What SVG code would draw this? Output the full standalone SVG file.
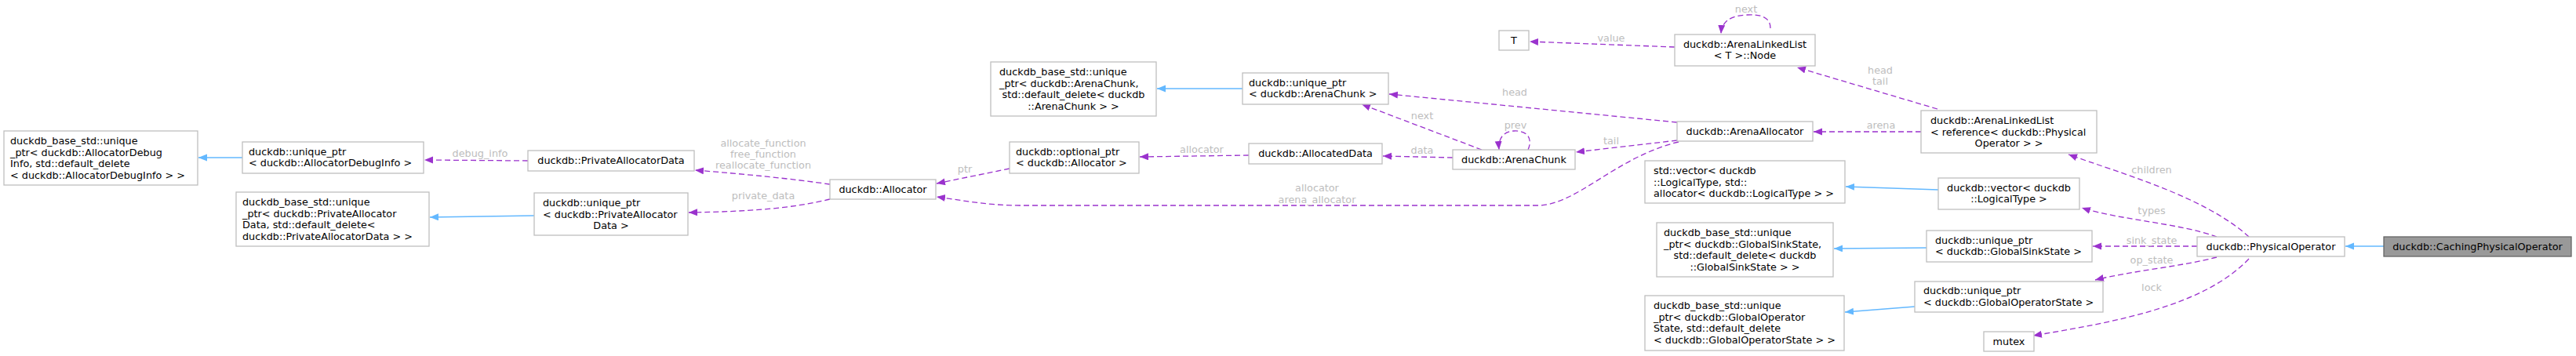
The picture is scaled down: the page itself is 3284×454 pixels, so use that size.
<svg xmlns="http://www.w3.org/2000/svg" width="3284" height="454" viewBox="0 0 3284 454">
<style>
rect{fill:#fff;stroke:#bfbfbf;stroke-width:1.3}
rect.main{fill:#999;stroke:#666}
text{font-family:"DejaVu Sans",sans-serif;font-size:12.8px;fill:#000}
text.m{text-anchor:middle}
text.l{font-size:12.8px;fill:#bdbdbd;text-anchor:middle}
path.p{fill:none;stroke:#9a32cd;stroke-width:1.3;stroke-dasharray:7,4;marker-end:url(#ap)}
path.b{fill:none;stroke:#63b8ff;stroke-width:1.3;marker-end:url(#ab)}
</style>
<defs>
<marker id="ap" markerUnits="userSpaceOnUse" markerWidth="12" markerHeight="10" refX="11" refY="4.5" orient="auto"><path d="M0,0 L11,4.5 L0,9 z" fill="#9a32cd"/></marker>
<marker id="ab" markerUnits="userSpaceOnUse" markerWidth="12" markerHeight="10" refX="11" refY="4.5" orient="auto"><path d="M0,0 L11,4.5 L0,9 z" fill="#63b8ff"/></marker>
</defs>
<g id="edges">
<path class="b" d="M309,201 L253,201"/>
<path class="p" d="M673,205 L541,204"/>
<path class="b" d="M681,275 L548,277"/>
<path class="b" d="M1584,113 L1475,113"/>
<path class="p" d="M1058,235 C1010,228 950,222 886,217"/>
<path class="p" d="M1058,254 C1010,266 950,270 878,271"/>
<path class="p" d="M1287,215 L1194,234"/>
<path class="p" d="M1592,198 L1453,200"/>
<path class="p" d="M1852,201 L1763,199"/>
<path class="p" d="M1889,191 L1736,133"/>
<path class="p" d="M1948,191 C1955,175 1945,166 1930,167 C1915,168 1910,178 1911,191"/>
<path class="p" d="M2138,156 L1771,120"/>
<path class="p" d="M2138,179 L2009,194"/>
<path class="p" d="M2140,181 C2060,200 2010,262 1960,262 L1300,262 C1260,262 1230,256 1194,251"/>
<path class="p" d="M2135,60 L1950,53"/>
<path class="p" d="M2257,36 C2257,22 2245,18 2227,19 C2205,20 2195,28 2194,43"/>
<path class="p" d="M2470,139 L2291,86"/>
<path class="p" d="M2449,168 L2312,168"/>
<path class="b" d="M2471,242 L2353,238"/>
<path class="b" d="M2456,316 L2338,317"/>
<path class="b" d="M2441,391 L2352,398"/>
<path class="p" d="M2867,302 C2810,250 2700,220 2637,197"/>
<path class="p" d="M2826,302 C2780,285 2700,280 2654,265"/>
<path class="p" d="M2801,314 L2668,314"/>
<path class="p" d="M2826,328 C2780,340 2720,345 2671,357"/>
<path class="p" d="M2867,330 C2810,390 2700,410 2592,428"/>
<path class="b" d="M3039,314 L2990,314"/>
<text class="l" x="612" y="200">debug_info</text>
<text class="l" x="973" y="187">allocate_function</text>
<text class="l" x="973" y="201">free_function</text>
<text class="l" x="973" y="215">reallocate_function</text>
<text class="l" x="973" y="254">private_data</text>
<text class="l" x="1230" y="220">ptr</text>
<text class="l" x="1532" y="195">allocator</text>
<text class="l" x="1813" y="196">data</text>
<text class="l" x="1813" y="152">next</text>
<text class="l" x="1932" y="164">prev</text>
<text class="l" x="1931" y="122">head</text>
<text class="l" x="2054" y="184">tail</text>
<text class="l" x="1679" y="244">allocator</text>
<text class="l" x="1679" y="259">arena_allocator</text>
<text class="l" x="2054" y="53">value</text>
<text class="l" x="2226" y="16">next</text>
<text class="l" x="2397" y="94">head</text>
<text class="l" x="2397" y="108">tail</text>
<text class="l" x="2398" y="164">arena</text>
<text class="l" x="2743" y="221">children</text>
<text class="l" x="2743" y="273">types</text>
<text class="l" x="2743" y="311">sink_state</text>
<text class="l" x="2743" y="336">op_state</text>
<text class="l" x="2743" y="371">lock</text>
</g>
<g id="adi_base"><rect x="5" y="167" width="247" height="69"/><text x="13" y="184">duckdb_base_std::unique</text><text x="13" y="198.5">_ptr&lt; duckdb::AllocatorDebug</text><text x="13" y="213">Info, std::default_delete</text><text x="13" y="227.5">&lt; duckdb::AllocatorDebugInfo &gt; &gt;</text></g>
<g id="adi_up"><rect x="309" y="181" width="231" height="40"/><text x="317" y="197.5">duckdb::unique_ptr</text><text x="317" y="212">&lt; duckdb::AllocatorDebugInfo &gt;</text></g>
<g id="pad"><rect x="673" y="192" width="212" height="26"/><text class="m" x="779" y="209">duckdb::PrivateAllocatorData</text></g>
<g id="pa_base"><rect x="301" y="245" width="246" height="69"/><text x="309" y="262">duckdb_base_std::unique</text><text x="309" y="276.5">_ptr&lt; duckdb::PrivateAllocator</text><text x="309" y="291">Data, std::default_delete&lt;</text><text x="309" y="305.5"> duckdb::PrivateAllocatorData &gt; &gt;</text></g>
<g id="pa_up"><rect x="681" y="246" width="196" height="54"/><text x="692" y="263">duckdb::unique_ptr</text><text x="692" y="277.5">&lt; duckdb::PrivateAllocator</text><text class="m" x="779" y="292">Data &gt;</text></g>
<g id="allocator"><rect x="1058" y="229" width="135" height="25"/><text class="m" x="1125.5" y="246">duckdb::Allocator</text></g>
<g id="opt"><rect x="1287" y="181" width="165" height="40"/><text x="1295" y="197.5">duckdb::optional_ptr</text><text x="1295" y="212">&lt; duckdb::Allocator &gt;</text></g>
<g id="allocdata"><rect x="1592" y="183" width="170" height="26"/><text class="m" x="1677" y="200">duckdb::AllocatedData</text></g>
<g id="arena_base"><rect x="1263" y="79" width="211" height="69"/><text x="1274" y="96">duckdb_base_std::unique</text><text x="1274" y="110.5">_ptr&lt; duckdb::ArenaChunk,</text><text class="m" x="1368.5" y="125">std::default_delete&lt; duckdb</text><text class="m" x="1368.5" y="139.5">::ArenaChunk &gt; &gt;</text></g>
<g id="unique_arena"><rect x="1584" y="93" width="186" height="40"/><text x="1592" y="109.5">duckdb::unique_ptr</text><text x="1592" y="124">&lt; duckdb::ArenaChunk &gt;</text></g>
<g id="arenachunk"><rect x="1852" y="191" width="156" height="25"/><text class="m" x="1930" y="208">duckdb::ArenaChunk</text></g>
<g id="arenaalloc"><rect x="2138" y="155" width="173" height="25"/><text class="m" x="2224.5" y="172">duckdb::ArenaAllocator</text></g>
<g id="T"><rect x="1911" y="39" width="38" height="25"/><text class="m" x="1930" y="56">T</text></g>
<g id="node"><rect x="2135" y="44" width="179" height="40"/><text class="m" x="2224.5" y="60.5">duckdb::ArenaLinkedList</text><text class="m" x="2224.5" y="75">&lt; T &gt;::Node</text></g>
<g id="all"><rect x="2449" y="141" width="224" height="54"/><text x="2461" y="158">duckdb::ArenaLinkedList</text><text x="2461" y="172.5">&lt; reference&lt; duckdb::Physical</text><text class="m" x="2561" y="187">Operator &gt; &gt;</text></g>
<g id="stdvector"><rect x="2097" y="205" width="255" height="54"/><text x="2108" y="222">std::vector&lt; duckdb</text><text x="2108" y="236.5">::LogicalType, std::</text><text x="2108" y="251">allocator&lt; duckdb::LogicalType &gt; &gt;</text></g>
<g id="dvector"><rect x="2471" y="227" width="180" height="40"/><text class="m" x="2561" y="243.5">duckdb::vector&lt; duckdb</text><text class="m" x="2561" y="258">::LogicalType &gt;</text></g>
<g id="gss_base"><rect x="2112" y="284" width="225" height="69"/><text x="2121" y="301">duckdb_base_std::unique</text><text x="2121" y="315.5">_ptr&lt; duckdb::GlobalSinkState,</text><text class="m" x="2224.5" y="330">std::default_delete&lt; duckdb</text><text class="m" x="2224.5" y="344.5">::GlobalSinkState &gt; &gt;</text></g>
<g id="gss_up"><rect x="2456" y="294" width="211" height="40"/><text x="2467" y="310.5">duckdb::unique_ptr</text><text x="2467" y="325">&lt; duckdb::GlobalSinkState &gt;</text></g>
<g id="gos_base"><rect x="2097" y="377" width="254" height="70"/><text x="2108" y="394">duckdb_base_std::unique</text><text x="2108" y="408.5">_ptr&lt; duckdb::GlobalOperator</text><text x="2108" y="423">State, std::default_delete</text><text x="2108" y="437.5">&lt; duckdb::GlobalOperatorState &gt; &gt;</text></g>
<g id="gos_up"><rect x="2441" y="359" width="240" height="39"/><text x="2452" y="375">duckdb::unique_ptr</text><text x="2452" y="389.5">&lt; duckdb::GlobalOperatorState &gt;</text></g>
<g id="mutex"><rect x="2529" y="423" width="64" height="25"/><text class="m" x="2561" y="440">mutex</text></g>
<g id="physop"><rect x="2801" y="302" width="188" height="25"/><text class="m" x="2895" y="319">duckdb::PhysicalOperator</text></g>
<g id="caching"><rect class="main" x="3039" y="302" width="239" height="25"/><text class="m" x="3158.5" y="319">duckdb::CachingPhysicalOperator</text></g>
</svg>
